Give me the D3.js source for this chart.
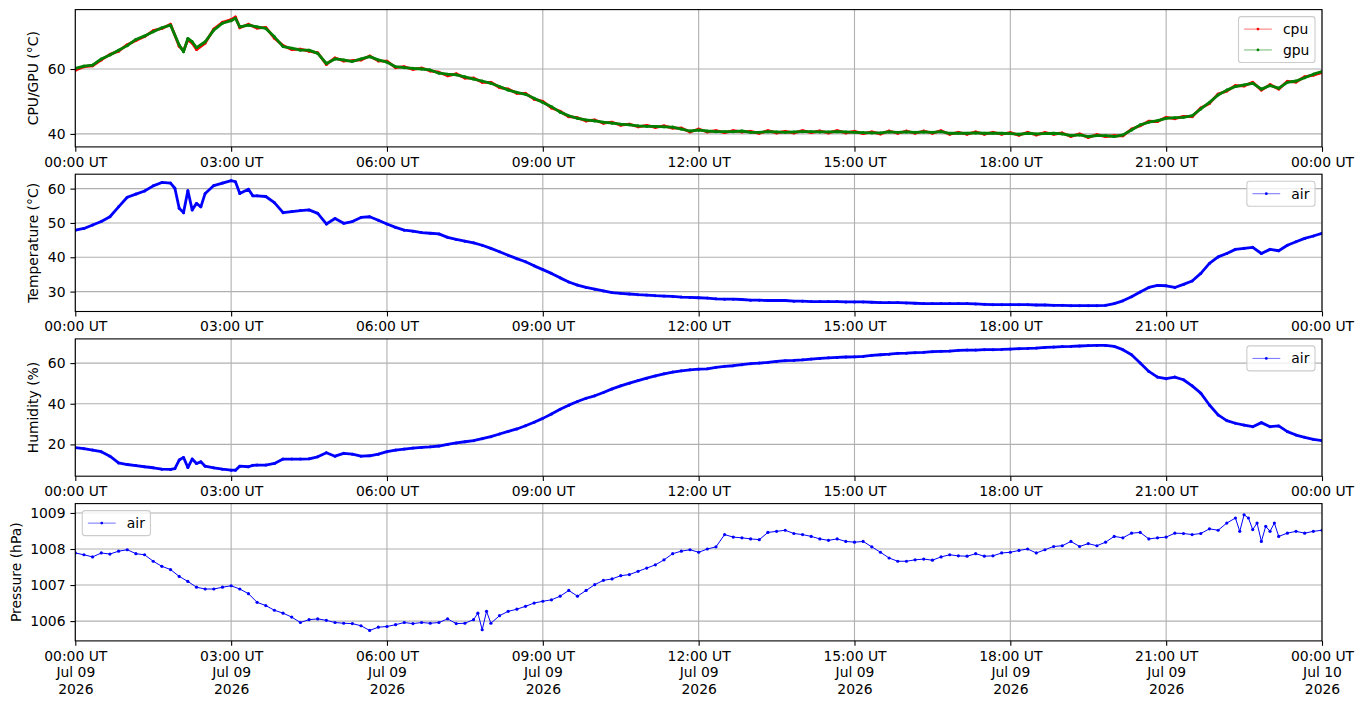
<!DOCTYPE html>
<html>
<head>
<meta charset="utf-8">
<script src="https://cdn.jsdelivr.net/npm/d3@7"></script>
<style>
  body { margin: 0; background: #fff; }
  svg { display: block; }
</style>
</head>
<body>
<svg id="chart" width="1363" height="707"></svg>
<script>
var font = "DejaVu Sans";
var fs = 13.9;

// minutes after 00:00 UT on Jul 09 2026
var chipMinutes = d3.range(0, 120, 10).concat([120, 125, 130, 135, 140, 150, 160, 170, 180, 185, 190], d3.range(200, 1441, 10));
var cpuTemp = [
    59.6, 60.7, 61.0, 62.8, 64.5, 65.5, 67.5, 68.8, 70.0, 71.8, 72.5, 73.8,
    67.0, 65.6, 69.0, 68.0, 66.0, 68.0, 72.3, 74.4, 75.2, 76.0, 72.7,
    73.8, 72.6, 72.8, 69.5,
    67.2, 66.0, 66.1, 65.5, 65.0, 61.4,
    63.4, 62.5, 62.6, 62.8, 64.0, 62.5,
    62.4, 60.4, 60.7, 59.9, 60.3, 59.4,
    59.0, 57.9, 58.5, 57.2, 57.2, 55.9,
    55.9, 54.3, 53.8, 52.5, 52.5, 50.7,
    50.0, 48.0, 47.0, 45.3, 45.0, 44.0,
    44.3, 43.3, 43.6, 42.7, 43.0, 42.2,
    42.6, 42.0, 42.5, 41.8, 41.8, 40.6,
    41.5, 40.6, 41.0, 40.4, 41.0, 40.6,
    40.8, 40.2, 41.0, 40.3, 40.8, 40.3,
    41.0, 40.4, 40.9, 40.3, 41.0, 40.3,
    40.8, 40.1, 40.6, 40.0, 40.9, 40.2,
    40.9, 40.2, 40.9, 40.2, 41.0, 39.9,
    40.5, 39.9, 40.6, 39.9, 40.5, 39.9,
    40.4, 39.6, 40.5, 39.7, 40.4, 39.9,
    40.3, 39.2, 40.0, 38.9, 39.8, 39.2,
    39.5, 39.4, 41.5, 42.5, 43.9, 43.8,
    45.1, 44.7, 45.4, 45.3, 48.0, 49.4,
    52.3, 53.2, 54.9, 54.8, 55.9, 53.5,
    55.2, 53.8, 56.2, 56.0, 57.6, 58.1,
    58.9
];
var gpuTemp = [
    60.2, 60.9, 61.2, 63.1, 64.3, 65.8, 67.2, 69.1, 70.2, 71.5, 72.7, 73.5,
    67.4, 65.3, 69.4, 68.4, 66.6, 68.4, 72.0, 74.1, 74.9, 75.6, 73.0,
    73.5, 73.0, 72.5, 69.9,
    66.9, 66.4, 65.8, 65.8, 64.8, 61.7,
    63.1, 62.8, 62.3, 63.1, 63.8, 62.8,
    62.1, 60.7, 60.4, 60.2, 60.0, 59.7,
    58.7, 58.4, 58.2, 57.6, 56.9, 56.3,
    55.6, 54.6, 53.5, 52.8, 52.2, 51.0,
    49.7, 48.4, 46.7, 45.6, 44.8, 44.3,
    44.0, 43.6, 43.3, 43.0, 42.8, 42.5,
    42.3, 42.3, 42.2, 42.1, 41.5, 40.9,
    41.2, 40.9, 40.7, 40.7, 40.7, 40.9,
    40.5, 40.5, 40.7, 40.6, 40.5, 40.6,
    40.7, 40.7, 40.6, 40.6, 40.7, 40.6,
    40.5, 40.4, 40.3, 40.3, 40.6, 40.5,
    40.6, 40.5, 40.6, 40.5, 40.7, 40.2,
    40.2, 40.2, 40.3, 40.2, 40.2, 40.2,
    40.1, 39.9, 40.2, 40.0, 40.1, 40.2,
    40.0, 39.5, 39.7, 39.2, 39.5, 39.5,
    39.2, 39.7, 41.2, 42.8, 43.6, 44.1,
    44.8, 45.0, 45.1, 45.6, 47.7, 49.7,
    52.0, 53.5, 54.6, 55.1, 55.6, 53.8,
    54.9, 54.1, 55.9, 56.3, 57.3, 58.4,
    59.2
];

var airMinutes = d3.range(0, 120, 10).concat([115, 120, 125, 130, 135, 140, 145, 150, 160, 170, 180, 185, 190, 200, 205, 210], d3.range(220, 1441, 10));
var airTemp = [
    47.9, 48.4, 49.4, 50.4, 51.8, 54.7, 57.5, 58.4, 59.3, 60.8, 61.8, 61.6,
    60.1, 54.3, 53.0, 59.4, 53.8, 55.7, 54.7, 58.6, 60.9, 61.6, 62.3, 62.0, 58.6, 59.8, 57.9, 57.9,
    57.7, 55.9,
    53.0, 53.3, 53.6, 53.8, 52.8, 49.7,
    51.3, 49.9, 50.4, 51.6, 51.8, 50.8,
    49.7, 48.7, 47.9, 47.6, 47.2, 47.0,
    46.8, 45.8, 45.2, 44.7, 44.2, 43.5,
    42.6, 41.6, 40.6, 39.6, 38.7, 37.5,
    36.4, 35.3, 34.0, 32.8, 31.9, 31.2,
    30.7, 30.2, 29.7, 29.5, 29.3, 29.1,
    29.0, 28.8, 28.7, 28.6, 28.4, 28.3,
    28.2, 28.1, 27.9, 27.8, 27.8, 27.7,
    27.5, 27.5, 27.4, 27.4, 27.4, 27.2,
    27.2, 27.1, 27.1, 27.1, 27.1, 27.0,
    27.0, 27.0, 26.9, 26.8, 26.8, 26.8,
    26.7, 26.6, 26.5, 26.5, 26.5, 26.5,
    26.5, 26.5, 26.4, 26.3, 26.2, 26.2,
    26.2, 26.2, 26.2, 26.1, 26.1, 26.0,
    26.0, 25.9, 25.9, 25.9, 25.9, 26.0,
    26.5, 27.3, 28.5, 29.9, 31.2, 31.8,
    31.7, 31.2, 32.1, 33.1, 35.3, 38.2,
    40.1, 41.1, 42.3, 42.6, 42.9, 41.1,
    42.3, 41.9, 43.5, 44.5, 45.5, 46.2,
    47.0
];
var airHumidity = [
    18.4, 17.9, 17.2, 16.4, 14.2, 10.9, 10.1, 9.6, 9.0, 8.5, 7.8, 7.7,
    8.1, 12.3, 13.6, 8.6, 12.8, 10.6, 11.4, 9.3, 8.5, 7.8, 7.3, 7.3, 9.3, 9.0, 9.7, 9.8,
    9.8, 10.6,
    12.8, 12.8, 12.8, 12.9, 13.9, 15.9,
    14.2, 15.6, 15.2, 14.2, 14.4, 15.2,
    16.4, 17.2, 17.7, 18.2, 18.5, 18.8,
    19.2, 20.0, 20.7, 21.3, 21.8, 22.8,
    23.8, 25.1, 26.4, 27.6, 29.2, 30.9,
    32.8, 35.0, 37.3, 39.3, 41.1, 42.7,
    43.9, 45.5, 47.3, 48.8, 50.1, 51.4,
    52.6, 53.7, 54.7, 55.6, 56.2, 56.7,
    57.0, 57.2, 57.9, 58.4, 58.7, 59.2,
    59.7, 60.0, 60.3, 60.8, 61.2, 61.3,
    61.6, 62.0, 62.3, 62.6, 62.8, 63.0,
    63.1, 63.3, 63.8, 64.1, 64.4, 64.8,
    64.9, 65.1, 65.3, 65.6, 65.8, 65.9,
    66.3, 66.4, 66.4, 66.6, 66.6, 66.7,
    66.9, 67.1, 67.2, 67.4, 67.7, 67.9,
    68.1, 68.2, 68.4, 68.6, 68.7, 68.7,
    68.2, 66.6, 64.1, 60.0, 55.9, 53.1,
    52.3, 53.1, 51.8, 48.8, 45.2, 39.4,
    34.5, 31.7, 30.4, 29.5, 28.7, 30.7,
    28.7, 29.1, 26.3, 24.6, 23.5, 22.5,
    21.8
];

var presMinutes = d3.range(0, 461, 10).concat([465, 470, 475, 480], d3.range(490, 1321, 10),
    [1330, 1340, 1345, 1350, 1355, 1360, 1365, 1370, 1375, 1380, 1385, 1390], d3.range(1400, 1441, 10));
var airPressure = [
    1007.89, 1007.84, 1007.78, 1007.89, 1007.86, 1007.94,
    1007.98, 1007.87, 1007.84, 1007.66, 1007.52, 1007.43,
    1007.24, 1007.10, 1006.94, 1006.89, 1006.89, 1006.94,
    1006.98, 1006.89, 1006.76, 1006.52, 1006.43, 1006.30,
    1006.22, 1006.11, 1005.96, 1006.04, 1006.06, 1006.02,
    1005.96, 1005.94, 1005.93, 1005.87, 1005.74, 1005.83,
    1005.85, 1005.90, 1005.96, 1005.93, 1005.96, 1005.94,
    1005.96, 1006.06, 1005.93, 1005.94, 1006.04,
    1006.22, 1005.76, 1006.27, 1005.94,
    1006.15, 1006.27, 1006.33, 1006.41, 1006.50,
    1006.55, 1006.59, 1006.69, 1006.85, 1006.69, 1006.85,
    1007.01, 1007.13, 1007.17, 1007.26, 1007.29, 1007.38,
    1007.47, 1007.56, 1007.70, 1007.87, 1007.94, 1007.98,
    1007.91, 1008.00, 1008.06, 1008.40, 1008.33, 1008.31,
    1008.28, 1008.26, 1008.46, 1008.49, 1008.52, 1008.43,
    1008.40, 1008.35, 1008.28, 1008.24, 1008.28, 1008.21,
    1008.19, 1008.21, 1008.06, 1007.91, 1007.75, 1007.66,
    1007.66, 1007.70, 1007.72, 1007.69, 1007.78, 1007.84,
    1007.81, 1007.80, 1007.87, 1007.80, 1007.81, 1007.89,
    1007.91, 1007.96, 1008.00, 1007.89, 1007.98, 1008.07,
    1008.09, 1008.21, 1008.07, 1008.15, 1008.09, 1008.19,
    1008.35, 1008.31, 1008.44, 1008.46, 1008.28, 1008.31,
    1008.33, 1008.44, 1008.43, 1008.40, 1008.43, 1008.56,
    1008.52,
    1008.72, 1008.86, 1008.49, 1008.95, 1008.86, 1008.54, 1008.72, 1008.21, 1008.63, 1008.49, 1008.72, 1008.35,
    1008.44, 1008.49, 1008.44, 1008.49, 1008.52
];

var yTicks1 = [40, 60];
var yTicks2 = [30, 40, 50, 60];
var yTicks3 = [20, 40, 60];
var yTicks4 = [1006, 1007, 1008, 1009];

var dayStart = Date.UTC(2026, 6, 9);
function toDate(m) { return new Date(dayStart + m * 60000); }

var left = 75.3, right = 1322, panelH = 137.3;
var panelTops = [9.6, 174.2, 338.9, 503.6];

var panels = [
    { ylabel: "CPU/GPU (°C)", domain: [36.0, 78.3], ticks: yTicks1, labelX: 33, legendLeft: false,
      series: [
        { name: "cpu", color: "#ff0000", t: chipMinutes, v: cpuTemp, w: 2.8 },
        { name: "gpu", color: "#008000", t: chipMinutes, v: gpuTemp, w: 2.8 }
      ] },
    { ylabel: "Temperature (°C)", domain: [24.2, 64.2], ticks: yTicks2, labelX: 33, legendLeft: false,
      series: [ { name: "air", color: "#0000ff", t: airMinutes, v: airTemp, w: 2.8 } ] },
    { ylabel: "Humidity (%)", domain: [4.35, 71.9], ticks: yTicks3, labelX: 33, legendLeft: false,
      series: [ { name: "air", color: "#0000ff", t: airMinutes, v: airHumidity, w: 2.8 } ] },
    { ylabel: "Pressure (hPa)", domain: [1005.45, 1009.26], ticks: yTicks4, labelX: 16, legendLeft: true,
      series: [ { name: "air", color: "#0000ff", t: presMinutes, v: airPressure, w: 1.0, dots: 1.6 } ] }
];

var svg = d3.select("#chart");
svg.append("rect").attr("width", 1363).attr("height", 707).attr("fill", "#fff");

var x = d3.scaleUtc()
    .domain([toDate(0), toDate(1440)])
    .range([left, right]);
var fmtTime = d3.utcFormat("%H:%M UT");
var fmtDay = d3.utcFormat("%b %d");
var fmtYear = d3.utcFormat("%Y");
var xTicks = x.ticks(d3.utcHour.every(3));

panels.forEach(function (p, i) {
    var top = panelTops[i], bottom = top + panelH;
    var y = d3.scaleLinear().domain(p.domain).range([bottom, top]);
    var g = svg.append("g").attr("font-family", font);

    var clipId = "clip" + i;
    svg.append("clipPath").attr("id", clipId)
        .append("rect")
        .attr("x", left).attr("y", top)
        .attr("width", right - left).attr("height", panelH);

    // grid
    g.append("g").selectAll("line")
        .data(xTicks)
        .enter()
        .append("line")
        .attr("x1", function (d) { return x(d); })
        .attr("x2", function (d) { return x(d); })
        .attr("y1", top).attr("y2", bottom)
        .attr("stroke", "#b0b0b0").attr("stroke-width", 1.1);
    g.append("g").selectAll("line")
        .data(p.ticks)
        .enter()
        .append("line")
        .attr("x1", left).attr("x2", right)
        .attr("y1", function (d) { return y(d); })
        .attr("y2", function (d) { return y(d); })
        .attr("stroke", "#b0b0b0").attr("stroke-width", 1.1);

    // series
    var plot = g.append("g").attr("clip-path", "url(#" + clipId + ")");
    p.series.forEach(function (s) {
        var pts = s.t.map(function (m, k) { return [toDate(m), s.v[k]]; });
        var line = d3.line()
            .x(function (d) { return x(d[0]); })
            .y(function (d) { return y(d[1]); });
        plot.append("path")
            .datum(pts)
            .attr("d", line)
            .attr("fill", "none")
            .attr("stroke", s.color)
            .attr("stroke-width", s.w)
            .attr("stroke-linejoin", "round");
        plot.append("g").selectAll("circle")
            .data(pts)
            .enter()
            .append("circle")
            .attr("cx", function (d) { return x(d[0]); })
            .attr("cy", function (d) { return y(d[1]); })
            .attr("r", s.dots || 1.5)
            .attr("fill", s.color);
    });

    // axes
    var xAxis = d3.axisBottom(x)
        .tickValues(xTicks)
        .tickFormat(fmtTime)
        .tickSize(4.9)
        .tickPadding(4.9);
    var gx = g.append("g")
        .attr("transform", "translate(0," + bottom + ")")
        .call(xAxis);
    gx.select(".domain").remove();
    gx.selectAll("text").attr("font-family", font).attr("font-size", fs).attr("fill", "#000");
    gx.selectAll("line").attr("stroke", "#000").attr("stroke-width", 1.1);

    if (i == 3) {
        gx.selectAll(".tick text").each(function (d) {
            var t = d3.select(this).text(null).attr("dy", null);
            t.append("tspan").attr("x", 0).attr("dy", "0.71em").text(fmtTime(d));
            t.append("tspan").attr("x", 0).attr("dy", "1.19em").text(fmtDay(d));
            t.append("tspan").attr("x", 0).attr("dy", "1.19em").text(fmtYear(d));
        });
    }

    var yAxis = d3.axisLeft(y)
        .tickValues(p.ticks)
        .tickFormat(d3.format("d"))
        .tickSize(4.9)
        .tickPadding(4.9);
    var gy = g.append("g")
        .attr("transform", "translate(" + left + ",0)")
        .call(yAxis);
    gy.select(".domain").remove();
    gy.selectAll("text").attr("font-family", font).attr("font-size", fs).attr("fill", "#000");
    gy.selectAll("line").attr("stroke", "#000").attr("stroke-width", 1.1);

    g.append("text")
        .attr("transform", "translate(" + p.labelX + "," + (top + panelH / 2) + ") rotate(-90)")
        .attr("text-anchor", "middle")
        .attr("dy", "0.35em")
        .attr("font-size", fs)
        .attr("fill", "#000")
        .text(p.ylabel);

    // frame
    g.append("rect")
        .attr("x", left).attr("y", top)
        .attr("width", right - left).attr("height", panelH)
        .attr("fill", "none")
        .attr("stroke", "#000")
        .attr("stroke-width", 1.1);

    drawLegend(g, p.series, p.legendLeft, top);
});

function drawLegend(g, series, atLeft, top) {
    var pad = 0.4 * fs, handle = 2 * fs, gap = 0.8 * fs, rowH = fs, spacing = 0.5 * fs;
    var lg = g.append("g");
    var box = lg.append("rect");
    var widest = 0;
    var rows = lg.selectAll("g.row")
        .data(series)
        .enter()
        .append("g")
        .attr("class", "row");
    rows.append("text")
        .attr("font-size", fs)
        .attr("fill", "#000")
        .attr("dy", "0.35em")
        .text(function (d) { return d.name; })
        .each(function () { widest = Math.max(widest, this.getComputedTextLength()); });

    var w = pad * 2 + handle + gap + widest;
    var h = pad * 2 + series.length * rowH + (series.length - 1) * spacing;
    var bx = atLeft ? left + 7 : right - 7 - w;
    var by = top + 7;

    box.attr("x", bx).attr("y", by)
        .attr("width", w).attr("height", h)
        .attr("rx", 2.8)
        .attr("fill", "#fff").attr("fill-opacity", 0.8)
        .attr("stroke", "#cccccc").attr("stroke-width", 1.1);

    rows.attr("transform", function (d, k) {
        return "translate(" + (bx + pad) + "," + (by + pad + rowH / 2 + k * (rowH + spacing)) + ")";
    });
    rows.append("line")
        .attr("x1", 0).attr("x2", handle)
        .attr("stroke", function (d) { return d.color; })
        .attr("stroke-width", 0.8)
        .attr("stroke-opacity", 0.7);
    rows.append("circle")
        .attr("cx", handle / 2)
        .attr("r", 1.4)
        .attr("fill", function (d) { return d.color; });
    rows.select("text").attr("x", handle + gap);
}
</script>
</body>
</html>
